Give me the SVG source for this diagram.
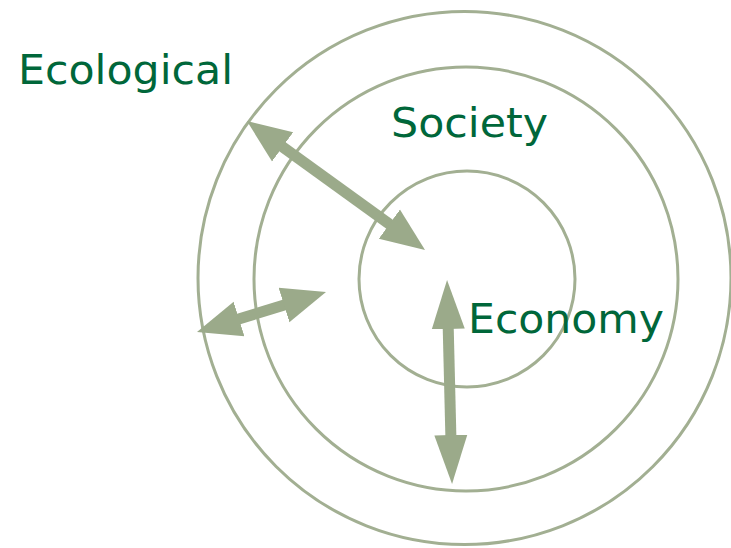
<svg xmlns="http://www.w3.org/2000/svg" width="731" height="548" viewBox="0 0 731 548">
  <style>
    .ring { fill: none; stroke: #A2AF92; stroke-width: 3; }
    .lbl { font-family: "DejaVu Sans", Verdana, sans-serif; font-size: 41px; fill: #00673A; }
    .shaft { stroke: #9BAA8A; stroke-width: 11; fill: none; }
  </style>
  <defs>
    <marker id="head" markerUnits="userSpaceOnUse" viewBox="-2 -20 46 40" refX="0" refY="0" markerWidth="46" markerHeight="40" orient="auto-start-reverse">
      <path d="M-2,-18 L42,0 L-2,18 Z" fill="#9BAA8A"/>
    </marker>
    <marker id="headV" markerUnits="userSpaceOnUse" viewBox="-2 -20 52 40" refX="0" refY="0" markerWidth="52" markerHeight="40" orient="auto-start-reverse">
      <path d="M-2,-16.5 L47,0 L-2,16.5 Z" fill="#9BAA8A"/>
    </marker>
  </defs>
  <rect width="731" height="548" fill="#ffffff"/>
  <g id="ecological">
    <circle class="ring" cx="464.5" cy="278" r="266.5"/>
    <text class="lbl" x="18" y="83.5" textLength="215" lengthAdjust="spacingAndGlyphs">Ecological</text>
  </g>
  <g id="society">
    <circle class="ring" cx="466" cy="279" r="212"/>
    <text class="lbl" x="391" y="137" textLength="157" lengthAdjust="spacingAndGlyphs">Society</text>
  </g>
  <g id="economy">
    <circle class="ring" cx="467" cy="279" r="108"/>
    <text class="lbl" x="468" y="333" textLength="196" lengthAdjust="spacingAndGlyphs">Economy</text>
  </g>
  <g id="connectors">
    <line class="shaft" x1="281" y1="145.7" x2="391" y2="225.3" marker-start="url(#head)" marker-end="url(#head)"/>
    <line class="shaft" x1="237.1" y1="319.6" x2="285.9" y2="304.4" marker-start="url(#head)" marker-end="url(#head)"/>
    <line class="shaft" x1="448.2" y1="327" x2="450.9" y2="437" marker-start="url(#headV)" marker-end="url(#headV)"/>
  </g>
</svg>
